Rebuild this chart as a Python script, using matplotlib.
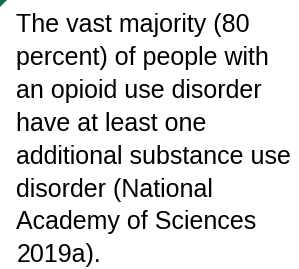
import matplotlib
matplotlib.use("Agg")
import matplotlib.pyplot as plt
from matplotlib.patches import Polygon

lines = [
    "The vast majority (80",
    "percent) of people with",
    "an opioid use disorder",
    "have at least one",
    "additional substance use",
    "disorder (National",
    "Academy of Sciences",
    "2019a).",
]

W, H = 299, 269
fig = plt.figure(figsize=(W / 100, H / 100), dpi=100)
fig.patch.set_facecolor("white")

# green corner triangle
tri = Polygon([(0, H), (7, H), (0, H - 7)], closed=True, transform=None,
              facecolor="#176b4d", edgecolor="none")
fig.patches.append(tri)

x0 = 16.5
first_baseline = 32
pitch = 32.9
for i, t in enumerate(lines):
    y = first_baseline + i * pitch
    fig.text(x0 / W, 1 - y / H, t, fontsize=18, family="Liberation Sans",
             color="#000000", ha="left", va="baseline")

fig.savefig("out.png", dpi=100, facecolor="white")
